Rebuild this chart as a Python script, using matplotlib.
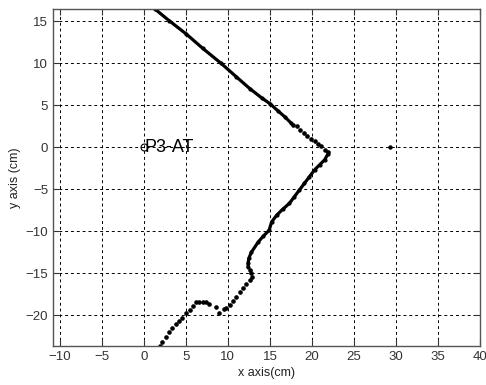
import matplotlib
matplotlib.use("Agg")
import matplotlib.pyplot as plt

plt.rcParams['font.family'] = ['Liberation Sans', 'DejaVu Sans']

# Continuous (dense) part: upper-left to the right
seg1_x = [1.3, 3.0, 5.05, 7.0, 9.2, 11.0, 12.6, 14.0, 15.0, 16.0, 16.8, 17.5]
seg1_y = [16.5, 15.1, 13.5, 11.8, 10.0, 8.4, 7.0, 5.9, 5.2, 4.3, 3.6, 2.9]
# Dotted tail towards the turning tip
tail_x = [17.8, 18.2, 18.6, 19.0, 19.4, 19.9, 20.3, 20.7, 21.1, 21.5, 21.9]
tail_y = [2.7, 2.5, 2.1, 1.7, 1.3, 1.0, 0.7, 0.4, 0.1, -0.3, -0.6]
# Dense part going down from the tip
seg2_x = [21.9, 21.5, 20.9, 20.3, 19.7, 19.1, 18.5, 17.9, 17.3, 16.5, 15.8, 15.2, 14.9, 14.2, 13.6, 12.8, 12.5, 12.4, 12.4]
seg2_y = [-0.8, -1.5, -2.1, -2.7, -3.5, -4.3, -5.1, -5.9, -6.7, -7.4, -8.1, -8.9, -9.9, -10.6, -11.3, -12.5, -13.2, -13.8, -14.3]
# Dotted lower part with the bump
seg3_x = [12.6, 12.8, 12.9, 12.6, 12.2, 11.8, 11.4, 11.0, 10.6, 10.2, 9.8, 9.5, 9.0, 8.6, 7.8, 7.4, 7.0, 6.6, 6.2, 5.9,
          5.5, 5.0, 4.6, 4.2, 3.8, 3.4, 3.0, 2.6, 2.2, 1.9]
seg3_y = [-14.6, -15.0, -15.5, -15.8, -16.3, -16.8, -17.3, -17.8, -18.3, -18.8, -19.1, -19.3, -19.8, -19.0, -18.7, -18.5,
          -18.4, -18.4, -18.5, -18.9, -19.4, -19.8, -20.3, -20.7, -21.1, -21.5, -22.0, -22.6, -23.2, -23.7]
# Isolated point
iso_x = [29.3]
iso_y = [0.0]
# Robot position
robot_x = [0.0]
robot_y = [0.0]
robot_label = "P3-AT"

xticks = [-10, -5, 0, 5, 10, 15, 20, 25, 30, 35, 40]
yticks = [-20, -15, -10, -5, 0, 5, 10, 15]

fig = plt.figure(figsize=(4.86, 3.85), dpi=100)
ax = fig.add_axes([0.109, 0.101, 0.879, 0.876])

ax.plot(seg1_x, seg1_y, color='black', lw=2.3, marker='o', ms=2.0, solid_capstyle='round')
ax.plot(tail_x, tail_y, linestyle='none', color='black', marker='o', ms=2.3)
ax.plot(seg2_x, seg2_y, color='black', lw=2.3, marker='o', ms=2.0, solid_capstyle='round')
ax.plot(seg3_x, seg3_y, linestyle='none', color='black', marker='o', ms=2.3)
ax.plot(iso_x, iso_y, linestyle='none', color='black', marker='o', ms=2.2)
ax.plot(robot_x, robot_y, linestyle='none', marker='o', ms=5, mfc='none', mec='black', mew=0.8)
ax.text(robot_x[0] + 0.05, robot_y[0], robot_label, fontsize=13, va='center', ha='left', color='black')

ax.set_xlim(-10.8, 40.0)
ax.set_ylim(-23.7, 16.5)
ax.set_xticks(xticks)
ax.set_yticks(yticks)
ax.grid(True, color='black', linestyle=(0, (3, 3)), linewidth=0.7)
ax.tick_params(direction='in', top=True, right=True, labelsize=9.5, colors='#333333', length=4)
for s in ax.spines.values():
    s.set_color('#555555')
    s.set_linewidth(1.0)
ax.set_xlabel('x axis(cm)', fontsize=9, color='#222222', labelpad=3)
ax.set_ylabel('y axis (cm)', fontsize=9, color='#222222', labelpad=3)

fig.savefig('out.png', dpi=100)
